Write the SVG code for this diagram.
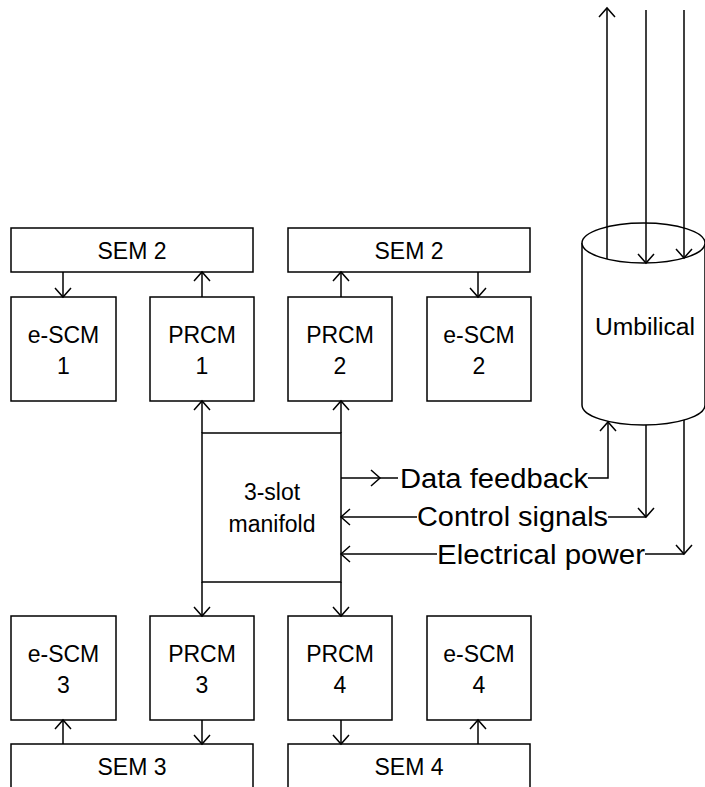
<svg xmlns="http://www.w3.org/2000/svg" width="705" height="787" viewBox="0 0 705 787">
<style>
.box{fill:#fff;stroke:#000;stroke-width:1.5}
.ln{fill:none;stroke:#000;stroke-width:1.5}
.t{font-family:"Liberation Sans",Arial,sans-serif;font-size:23px;fill:#000;text-anchor:middle}
.lab{font-family:"Liberation Sans",Arial,sans-serif;font-size:27px;fill:#000}
</style>
<defs>
<marker id="a" markerUnits="userSpaceOnUse" markerWidth="20" markerHeight="20" viewBox="-12 -10 14 20" refX="0" refY="0" orient="auto">
<path d="M-9,-8 L0,0 L-9,8" fill="none" stroke="#000" stroke-width="1.5"/>
</marker>
</defs>
<rect width="705" height="787" fill="#fff"/>
<g id="sem2-left"><rect class="box" x="11" y="228" width="242" height="44"/><text class="t" x="132" y="259">SEM 2</text></g>
<g id="sem2-right"><rect class="box" x="288" y="228" width="242" height="44"/><text class="t" x="409" y="259">SEM 2</text></g>
<g id="escm1"><rect class="box" x="11" y="297" width="105" height="104"/><text class="t" x="63.5" y="343">e-SCM</text><text class="t" x="63.5" y="374">1</text></g>
<g id="prcm1"><rect class="box" x="150" y="297" width="104" height="104"/><text class="t" x="202" y="343">PRCM</text><text class="t" x="202" y="374">1</text></g>
<g id="prcm2"><rect class="box" x="288" y="297" width="104" height="104"/><text class="t" x="340" y="343">PRCM</text><text class="t" x="340" y="374">2</text></g>
<g id="escm2"><rect class="box" x="427" y="297" width="104" height="104"/><text class="t" x="479" y="343">e-SCM</text><text class="t" x="479" y="374">2</text></g>
<g id="manifold"><rect class="box" x="202" y="433" width="139" height="149"/><text class="t" x="272" y="500">3-slot</text><text class="t" x="272" y="532">manifold</text></g>
<g id="escm3"><rect class="box" x="11" y="616" width="105" height="104"/><text class="t" x="63.5" y="662">e-SCM</text><text class="t" x="63.5" y="693">3</text></g>
<g id="prcm3"><rect class="box" x="150" y="616" width="104" height="104"/><text class="t" x="202" y="662">PRCM</text><text class="t" x="202" y="693">3</text></g>
<g id="prcm4"><rect class="box" x="288" y="616" width="104" height="104"/><text class="t" x="340" y="662">PRCM</text><text class="t" x="340" y="693">4</text></g>
<g id="escm4"><rect class="box" x="427" y="616" width="104" height="104"/><text class="t" x="479" y="662">e-SCM</text><text class="t" x="479" y="693">4</text></g>
<g id="sem3"><rect class="box" x="11" y="744" width="242" height="60"/><text class="t" x="132" y="775">SEM 3</text></g>
<g id="sem4"><rect class="box" x="288" y="744" width="242" height="60"/><text class="t" x="409" y="775">SEM 4</text></g>
<g id="umbilical">
<path class="box" d="M582,243 L582,405 A61.5,20 0 0 0 705,405 L705,243"/>
<ellipse class="box" cx="643.5" cy="243" rx="61.5" ry="20"/>
<text class="t" x="645" y="335" textLength="100" lengthAdjust="spacingAndGlyphs">Umbilical</text>
</g>
<g id="labels">
<text class="lab" x="400" y="488" textLength="188" lengthAdjust="spacingAndGlyphs">Data feedback</text>
<text class="lab" x="417" y="526" textLength="191" lengthAdjust="spacingAndGlyphs">Control signals</text>
<text class="lab" x="437" y="564" textLength="208" lengthAdjust="spacingAndGlyphs">Electrical power</text>
</g>
<g id="connectors" class="ln">
<path d="M63,272 V297" marker-end="url(#a)"/>
<path d="M202,297 V272" marker-end="url(#a)"/>
<path d="M341,297 V272" marker-end="url(#a)"/>
<path d="M478,272 V297" marker-end="url(#a)"/>
<path d="M202,433 V401" marker-end="url(#a)"/>
<path d="M341,433 V401" marker-end="url(#a)"/>
<path d="M202,582 V616" marker-end="url(#a)"/>
<path d="M341,582 V616" marker-end="url(#a)"/>
<path d="M63,744 V720" marker-end="url(#a)"/>
<path d="M202,720 V744" marker-end="url(#a)"/>
<path d="M341,720 V744" marker-end="url(#a)"/>
<path d="M478,744 V720" marker-end="url(#a)"/>
<path d="M341,478 H380" marker-end="url(#a)"/>
<path d="M380,478 H398"/>
<path d="M588,478 H608 V422" marker-end="url(#a)"/>
<path d="M646,425 V517" marker-end="url(#a)"/>
<path d="M646,517 H608"/>
<path d="M417,517 H341" marker-end="url(#a)"/>
<path d="M684,420 V554" marker-end="url(#a)"/>
<path d="M684,554 H645"/>
<path d="M437,554 H341" marker-end="url(#a)"/>
<path d="M607,259 V8" marker-end="url(#a)"/>
<path d="M646,10 V263" marker-end="url(#a)"/>
<path d="M684,10 V258" marker-end="url(#a)"/>
</g>
</svg>
